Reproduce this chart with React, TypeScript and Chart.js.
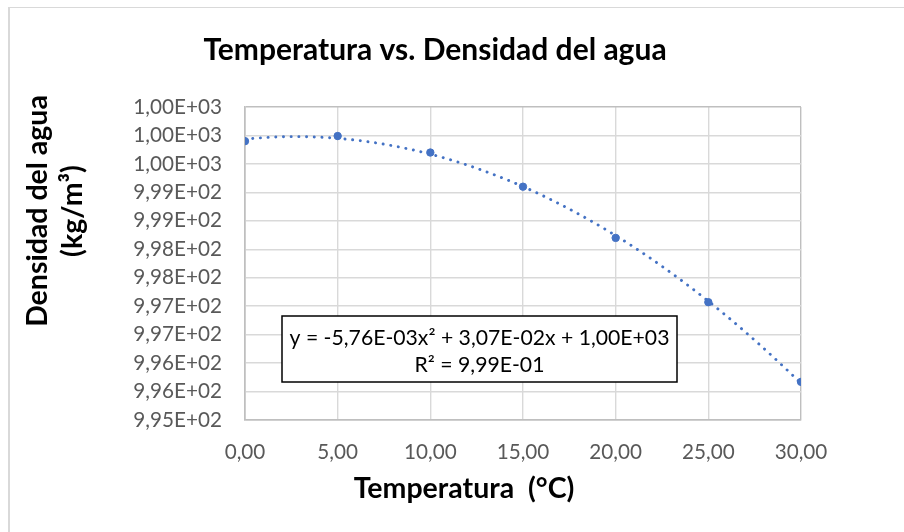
import React, { useEffect, useRef } from 'react';
import { Chart, registerables } from 'chart.js';

Chart.register(...registerables);

// ---- data ----
const temperatures = [0, 5, 10, 15, 20, 25, 30];
const densities = [999.9, 999.99, 999.7, 999.1, 998.2, 997.07, 995.67];

const xTickValues = [0, 5, 10, 15, 20, 25, 30];
const xTickLabels = ['0,00', '5,00', '10,00', '15,00', '20,00', '25,00', '30,00'];
const yTickValues = [995, 995.5, 996, 996.5, 997, 997.5, 998, 998.5, 999, 999.5, 1000, 1000.5];
const yTickLabels = [
  '9,95E+02', '9,96E+02', '9,96E+02', '9,97E+02', '9,97E+02', '9,98E+02',
  '9,98E+02', '9,99E+02', '9,99E+02', '1,00E+03', '1,00E+03', '1,00E+03',
];

const chartTitle = 'Temperatura vs. Densidad del agua';
const xAxisTitle = 'Temperatura  (°C)';
const yAxisTitle = ['Densidad del agua', '(kg/m³)'];
const trendLabelLines = ['y = -5,76E-03x² + 3,07E-02x + 1,00E+03', 'R² = 9,99E-01'];

const FONT = 'Lato, "Open Sans", sans-serif';
const BLUE = '#4472C4';

// least-squares quadratic fit (Excel polynomial trendline, order 2)
function quadFit(xs: number[], ys: number[]) {
  const S = (f: (x: number, y: number) => number) => xs.reduce((a, x, i) => a + f(x, ys[i]), 0);
  const n = xs.length;
  const sx = S((x) => x), sx2 = S((x) => x * x), sx3 = S((x) => x ** 3), sx4 = S((x) => x ** 4);
  const sy = S((_, y) => y), sxy = S((x, y) => x * y), sx2y = S((x, y) => x * x * y);
  const M = [
    [sx4, sx3, sx2, sx2y],
    [sx3, sx2, sx, sxy],
    [sx2, sx, n, sy],
  ];
  for (let i = 0; i < 3; i++) {
    for (let j = i + 1; j < 3; j++) {
      const f = M[j][i] / M[i][i];
      for (let k = i; k < 4; k++) M[j][k] -= f * M[i][k];
    }
  }
  const r = [0, 0, 0];
  for (let i = 2; i >= 0; i--) {
    let s = M[i][3];
    for (let k = i + 1; k < 3; k++) s -= M[i][k] * r[k];
    r[i] = s / M[i][i];
  }
  return r; // a, b, c
}

const textPlugin = {
  id: 'excelTexts',
  beforeDatasetsDraw(chart: any) {
    const { ctx, chartArea } = chart;
    const bx = chartArea.left + 37;
    const by = chartArea.top + 209;
    const bw = 395;
    const bh = 66;
    ctx.save();
    ctx.fillStyle = '#ffffff';
    ctx.fillRect(bx, by, bw, bh);
    ctx.strokeStyle = '#000000';
    ctx.lineWidth = 1.5;
    ctx.strokeRect(bx, by, bw, bh);
    ctx.fillStyle = '#000000';
    ctx.font = `21.2px ${FONT}`;
    ctx.textAlign = 'center';
    ctx.textBaseline = 'middle';
    ctx.fillText(trendLabelLines[0], bx + bw / 2, by + 22);
    ctx.fillText(trendLabelLines[1], bx + bw / 2, by + 49);
    ctx.restore();
  },
  afterDraw(chart: any) {
    const { ctx, chartArea } = chart;
    ctx.save();
    ctx.fillStyle = '#000000';
    ctx.font = `bold 28.5px ${FONT}`;
    ctx.textAlign = 'center';
    ctx.textBaseline = 'alphabetic';
    ctx.fillText(xAxisTitle, chartArea.left + 219, chartArea.bottom + 78);
    ctx.translate(47, chartArea.top + 104);
    ctx.rotate(-Math.PI / 2);
    ctx.fillText(yAxisTitle[0], 0, 0);
    ctx.fillText(yAxisTitle[1], 0, 35);
    ctx.restore();
  },
};

export default function App() {
  const canvasRef = useRef<HTMLCanvasElement | null>(null);

  useEffect(() => {
    if (!canvasRef.current) return;
    const [a, b, c] = quadFit(temperatures, densities);
    const trend: { x: number; y: number }[] = [];
    for (let x = temperatures[0]; x <= temperatures[temperatures.length - 1] + 1e-9; x += 0.25) {
      trend.push({ x, y: a * x * x + b * x + c });
    }
    const points = temperatures.map((t, i) => ({ x: t, y: densities[i] }));

    const edgeColor = '#bfbfbf';
    const gridColor = '#d9d9d9';

    const chart = new Chart(canvasRef.current, {
      type: 'scatter',
      data: {
        datasets: [
          {
            label: 'Densidad',
            data: points,
            backgroundColor: BLUE,
            borderColor: BLUE,
            pointRadius: 3.7,
            pointHoverRadius: 3.7,
            showLine: false,
          },
          {
            label: 'Tendencia',
            data: trend,
            showLine: true,
            borderColor: BLUE,
            borderWidth: 2.9,
            borderDash: [0.1, 7.6],
            borderCapStyle: 'round',
            pointRadius: 0,
            fill: false,
            tension: 0,
          },
        ],
      },
      options: {
        animation: false,
        responsive: false,
        maintainAspectRatio: false,
        layout: { padding: { left: 69, right: 103, top: 0, bottom: 0 } },
        plugins: {
          legend: { display: false },
          tooltip: { enabled: false },
          title: {
            display: true,
            text: chartTitle,
            color: '#000000',
            font: { family: FONT, size: 30, weight: 'bold', lineHeight: 1.2 },
            padding: { top: 32, bottom: 39 },
          },
        },
        scales: {
          x: {
            type: 'linear',
            min: 0,
            max: 30,
            afterBuildTicks: (scale: any) => {
              scale.ticks = xTickValues.map((v) => ({ value: v }));
            },
            afterFit: (scale: any) => {
              scale.height = 112;
            },
            ticks: {
              color: '#595959',
              font: { family: FONT, size: 20.7 },
              padding: 20,
              maxRotation: 0,
              callback: (value: any) => {
                const i = xTickValues.findIndex((v) => Math.abs(v - value) < 1e-6);
                return i >= 0 ? xTickLabels[i] : '';
              },
            },
            grid: {
              drawTicks: false,
              lineWidth: 1.4,
              color: (ctx: any) =>
                ctx.tick && (ctx.tick.value === 0 || ctx.tick.value === 30) ? edgeColor : gridColor,
            },
            border: { display: true, color: edgeColor, width: 1.6 },
          },
          y: {
            type: 'linear',
            min: 995,
            max: 1000.5,
            afterBuildTicks: (scale: any) => {
              scale.ticks = yTickValues.map((v) => ({ value: v }));
            },
            afterFit: (scale: any) => {
              scale.width = 176;
            },
            ticks: {
              color: '#595959',
              font: { family: FONT, size: 20.7 },
              padding: 23,
              callback: (value: any) => {
                const i = yTickValues.findIndex((v) => Math.abs(v - value) < 1e-6);
                return i >= 0 ? yTickLabels[i] : '';
              },
            },
            grid: {
              drawTicks: false,
              lineWidth: 1.4,
              color: (ctx: any) =>
                ctx.tick && (ctx.tick.value === 995 || ctx.tick.value === 1000.5) ? edgeColor : gridColor,
            },
            border: { display: true, color: edgeColor, width: 1.6 },
          },
        },
      },
      plugins: [textPlugin],
    });
    return () => chart.destroy();
  }, []);

  return (
    <div style={{ position: 'fixed', left: 0, top: 0, width: 904, height: 532, background: '#ffffff' }}>
      <div
        style={{
          position: 'absolute',
          left: 8,
          top: 7,
          right: 0,
          bottom: 0,
          borderLeft: '2px solid #d9d9d9',
          borderTop: '1px solid #d9d9d9',
        }}
      />
      <canvas
        ref={canvasRef}
        width={904}
        height={532}
        style={{ position: 'absolute', left: 0, top: 0, width: 904, height: 532 }}
      />
    </div>
  );
}
